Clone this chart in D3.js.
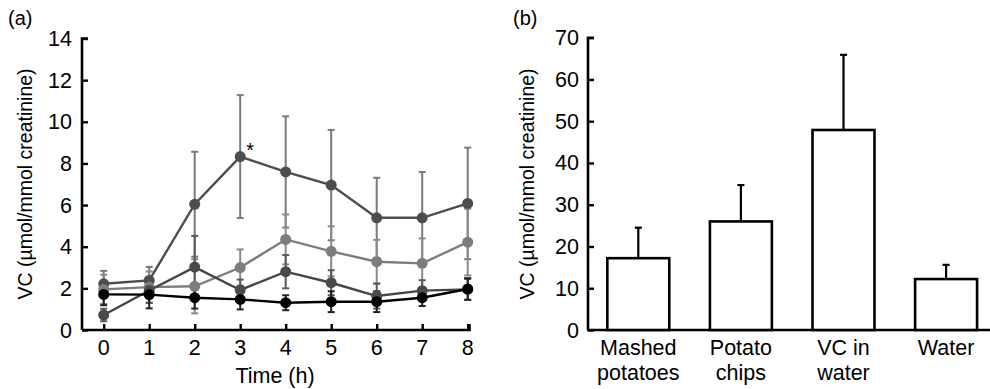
<!DOCTYPE html>
<html><head><meta charset="utf-8">
<script src="https://cdn.jsdelivr.net/npm/d3@7"></script>
<style>
body{margin:0;background:#fff;}
text{font-family:"Liberation Sans",Arial,sans-serif;fill:#000;}
</style></head>
<body><svg id="c" width="990" height="389"></svg>
<script>
// Panel (a) data
const hours = [0,1,2,3,4,5,6,7,8];
const s1Mean = [2.22,2.38,6.04,8.33,7.59,6.96,5.39,5.39,6.08];
const s1Err  = [0.62,0.65,2.52,2.95,2.67,2.65,1.92,2.2,2.68];
const s2Mean = [1.95,2.06,2.1,3.0,4.35,3.78,3.28,3.2,4.22];
const s2Err  = [0.7,0.75,1.3,0.87,1.2,1.2,1.05,1.2,1.6];
const s3Mean = [0.72,1.9,3.02,1.92,2.8,2.27,1.63,1.89,1.95];
const s3Err  = [0.3,0.6,1.5,0.5,0.8,0.6,0.6,0.5,0.5];
const s4Mean = [1.71,1.7,1.55,1.47,1.31,1.36,1.36,1.55,1.97];
const s4Err  = [0.52,0.66,0.52,0.48,0.36,0.5,0.5,0.4,0.52];
const yTicksA = [0,2,4,6,8,10,12,14];

// Panel (b) data
const groups = [["Mashed","potatoes"],["Potato","chips"],["VC in","water"],["Water"]];
const barMean = [17.2,26.0,47.9,12.2];
const barErr  = [7.3,8.7,18.0,3.4];
const yTicksB = [0,10,20,30,40,50,60,70];

const svg = d3.select("#c");
const FS = 21.5;

// ---------- Panel a ----------
const xA = d3.scaleLinear().domain([0,8]).range([103.7,467.7]);
const yA = d3.scaleLinear().domain([0,14]).range([330,38.5]);
const gA = svg.append("g");

const axL = gA.append("g").attr("transform","translate(82,0)")
  .call(d3.axisRight(yA).tickValues(yTicksA).tickSize(6).tickFormat(""));
axL.select(".domain").attr("d",`M6,${yA(14)}H0V${yA(0)}`).attr("stroke-width",2.6);
axL.selectAll(".tick line").attr("stroke-width",2.4);
yTicksA.forEach(v=>{
  gA.append("text").attr("x",72).attr("y",yA(v)+7.5).attr("text-anchor","end")
    .attr("font-size",FS).text(v);
});
const axB = gA.append("g").attr("transform","translate(0,330)")
  .call(d3.axisTop(xA).tickValues(hours).tickSize(6).tickFormat(""));
axB.select(".domain").attr("d",`M82,0H469.5V-6`).attr("stroke-width",2.6);
axB.selectAll(".tick line").attr("stroke-width",2.4);
hours.forEach(v=>{
  gA.append("text").attr("x",xA(v)).attr("y",355).attr("text-anchor","middle")
    .attr("font-size",FS).text(v);
});
gA.append("text").attr("x",275).attr("y",383).attr("text-anchor","middle").attr("font-size",FS).text("Time (h)");
gA.append("text").attr("transform","translate(32,184) rotate(-90)").attr("text-anchor","middle")
  .attr("font-size",19.5).text("VC (µmol/mmol creatinine)");
gA.append("text").attr("x",8).attr("y",25).attr("font-size",20).text("(a)");

const series = [
  {m:s1Mean,e:s1Err,line:"#4d4d4d",pt:"#4d4d4d",bar:"#7a7a7a"},
  {m:s2Mean,e:s2Err,line:"#7d7d7d",pt:"#7d7d7d",bar:"#8a8a8a"},
  {m:s3Mean,e:s3Err,line:"#454545",pt:"#4a4a4a",bar:"#5a5a5a"},
  {m:s4Mean,e:s4Err,line:"#000",pt:"#000",bar:"#222"}
];
series.forEach(s=>{
  const g = gA.append("g").attr("stroke",s.bar).attr("stroke-width",2);
  hours.forEach((h,i)=>{
    const x=xA(h), y1=yA(s.m[i]+s.e[i]), y2=yA(Math.max(0,s.m[i]-s.e[i]));
    g.append("line").attr("x1",x).attr("x2",x).attr("y1",y1).attr("y2",y2);
    g.append("line").attr("x1",x-3.5).attr("x2",x+3.5).attr("y1",y1).attr("y2",y1);
    g.append("line").attr("x1",x-3.5).attr("x2",x+3.5).attr("y1",y2).attr("y2",y2);
  });
});
const line = d3.line().x((d,i)=>xA(hours[i])).y(d=>yA(d));
series.forEach(s=>{
  gA.append("path").datum(s.m).attr("d",line).attr("fill","none")
    .attr("stroke",s.line).attr("stroke-width",2.4);
  gA.append("g").selectAll("circle").data(s.m).join("circle")
    .attr("cx",(d,i)=>xA(hours[i])).attr("cy",d=>yA(d)).attr("r",5.5).attr("fill",s.pt);
});
gA.append("text").attr("x",xA(3)+6).attr("y",yA(s1Mean[3])+0).attr("font-size",20).text("*");

// ---------- Panel b ----------
const xB = d3.scaleBand().domain(d3.range(groups.length)).range([586.8,997.6])
  .paddingInner(0.396).paddingOuter(0.2);
const yB = d3.scaleLinear().domain([0,70]).range([330,37.7]);
const gB = svg.append("g");

const bL = gB.append("g").attr("transform","translate(588,0)")
  .call(d3.axisRight(yB).tickValues(yTicksB).tickSize(6).tickFormat(""));
bL.select(".domain").attr("d",`M6,${yB(70)}H0V${yB(0)}`).attr("stroke-width",2.6);
bL.selectAll(".tick line").attr("stroke-width",2.4);
yTicksB.forEach(v=>{
  gB.append("text").attr("x",579).attr("y",yB(v)+7.5).attr("text-anchor","end")
    .attr("font-size",FS).text(v);
});
gB.append("line").attr("x1",587).attr("x2",990).attr("y1",330).attr("y2",330)
  .attr("stroke","#000").attr("stroke-width",2.6);
gB.append("text").attr("transform","translate(534,184) rotate(-90)").attr("text-anchor","middle")
  .attr("font-size",19.5).text("VC (µmol/mmol creatinine)");
gB.append("text").attr("x",513).attr("y",25).attr("font-size",20).text("(b)");

groups.forEach((lab,i)=>{
  const x0=xB(i), w=xB.bandwidth(), cx=x0+w/2;
  gB.append("line").attr("x1",cx).attr("x2",cx).attr("y1",yB(barMean[i])).attr("y2",yB(barMean[i]+barErr[i]))
    .attr("stroke","#000").attr("stroke-width",2.2);
  gB.append("line").attr("x1",cx-3.5).attr("x2",cx+3.5).attr("y1",yB(barMean[i]+barErr[i])).attr("y2",yB(barMean[i]+barErr[i]))
    .attr("stroke","#000").attr("stroke-width",2.2);
  gB.append("rect").attr("x",x0).attr("y",yB(barMean[i])).attr("width",w).attr("height",yB(0)-yB(barMean[i]))
    .attr("fill","#fff").attr("stroke","#000").attr("stroke-width",2.6);
  lab.forEach((t,j)=>{
    gB.append("text").attr("x",cx).attr("y",355+j*25).attr("text-anchor","middle")
      .attr("font-size",FS).text(t);
  });
});
</script></body></html>
